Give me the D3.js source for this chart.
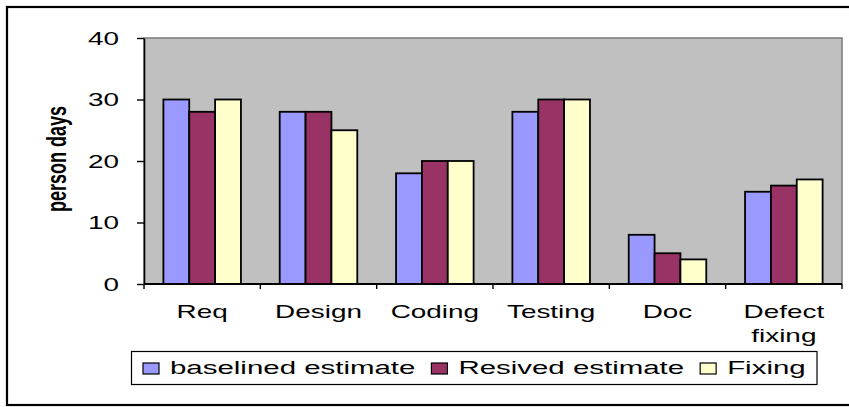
<!DOCTYPE html>
<html>
<head>
<meta charset="utf-8">
<script src="https://cdn.jsdelivr.net/npm/d3@7"></script>
<style>
  html, body { margin: 0; padding: 0; background: #fff; }
  svg { display: block; }
</style>
</head>
<body>
<svg id="chart" width="849" height="407"></svg>
<script>
// Effort per phase, in person days
const categories = ["Req", "Design", "Coding", "Testing", "Doc", "Defect fixing"];
const seriesNames = ["baselined estimate", "Resived estimate", "Fixing"];
const baselined = [30, 28, 18, 28, 8, 15];
const revised   = [28, 28, 20, 30, 5, 16];
const fixing    = [30, 25, 20, 30, 4, 17];
const yTicks = [0, 10, 20, 30, 40];
const colors = ["#9999FF", "#993366", "#FFFFCC"];

const seriesValues = [baselined, revised, fixing];

const W = 849, H = 407;
const sx = 1.55;                       // horizontal text stretch of the sheet
const FONT = "'Liberation Sans', Arial, Helvetica, sans-serif";
const plot = { left: 144, right: 842, top: 38, bottom: 284 };

const svg = d3.select("#chart");

// outer chart frame
svg.append("rect")
  .attr("x", 7).attr("y", 7)
  .attr("width", 870).attr("height", 398)
  .attr("fill", "#fff").attr("stroke", "#000").attr("stroke-width", 2.2);

// scales
const x0 = d3.scaleBand().domain(categories).range([plot.left, plot.right]).padding(0);
const barW = x0.bandwidth() / 4.5;     // gap width 150%
const x1 = d3.scaleBand().domain(seriesNames).range([0.75 * barW, 3.75 * barW]).padding(0);
const y = d3.scaleLinear().domain([0, 40]).range([plot.bottom, plot.top]);

// plot area
svg.append("rect")
  .attr("x", plot.left).attr("y", plot.top)
  .attr("width", plot.right - plot.left).attr("height", plot.bottom - plot.top)
  .attr("fill", "#C0C0C0").attr("stroke", "#808080").attr("stroke-width", 1.6);

// bars
const rows = categories.map((c, i) => ({
  cat: c,
  vals: seriesNames.map((s, j) => ({ series: s, value: seriesValues[j][i], color: colors[j] }))
}));

svg.append("g").selectAll("g")
  .data(rows).join("g")
  .attr("transform", d => `translate(${x0(d.cat)},0)`)
  .selectAll("rect")
  .data(d => d.vals).join("rect")
  .attr("x", d => x1(d.series))
  .attr("y", d => y(d.value))
  .attr("width", x1.bandwidth())
  .attr("height", d => y(0) - y(d.value))
  .attr("fill", d => d.color)
  .attr("stroke", "#000").attr("stroke-width", 1.8);

// y axis
const yAxis = svg.append("g")
  .attr("transform", `translate(${plot.left},0)`)
  .call(d3.axisLeft(y).tickValues(yTicks).tickSize(7).tickSizeOuter(0));
yAxis.select(".domain").attr("stroke", "#000").attr("stroke-width", 1.6);
yAxis.selectAll(".tick line").attr("stroke", "#000").attr("stroke-width", 1.4);
yAxis.selectAll(".tick text")
  .attr("x", -25 / sx)
  .attr("dy", "0.36em")
  .attr("transform", `scale(${sx},1)`)
  .attr("fill", "#000")
  .style("font-family", FONT).style("font-size", "18px");

// x axis: baseline and category boundary ticks
const xg = svg.append("g");
xg.append("line")
  .attr("x1", plot.left).attr("x2", plot.right)
  .attr("y1", plot.bottom).attr("y2", plot.bottom)
  .attr("stroke", "#000").attr("stroke-width", 1.8);
const bounds = categories.map(c => x0(c)).concat([x0(categories[categories.length - 1]) + x0.bandwidth()]);
xg.selectAll("line.bt")
  .data(bounds).join("line")
  .attr("class", "bt")
  .attr("x1", d => d).attr("x2", d => d)
  .attr("y1", plot.bottom).attr("y2", plot.bottom + 5)
  .attr("stroke", "#000").attr("stroke-width", 1.4);

// category labels, wrapped when wider than the band
const labels = xg.selectAll("g.lab")
  .data(categories).join("g")
  .attr("class", "lab")
  .attr("transform", d => `translate(${x0(d) + x0.bandwidth() / 2},318) scale(${sx},1)`);
labels.each(function (d) {
  const g = d3.select(this);
  const t = g.append("text")
    .attr("text-anchor", "middle")
    .attr("fill", "#000")
    .style("font-family", FONT).style("font-size", "18px")
    .text(d);
  if (t.node().getComputedTextLength() * sx > x0.bandwidth()) {
    const words = d.split(" ");
    t.text(null);
    words.forEach((w, i) => {
      t.append("tspan").attr("x", 0).attr("dy", i === 0 ? 0 : 24).text(w);
    });
  }
});

// y axis title
svg.append("text")
  .attr("transform", `translate(66,159) scale(${sx},1) rotate(-90)`)
  .attr("text-anchor", "middle")
  .attr("fill", "#000")
  .style("font-family", FONT).style("font-size", "18px").style("font-weight", "bold")
  .text("person days");

// legend
const lg = svg.append("g");
lg.append("rect")
  .attr("x", 131.5).attr("y", 351.5)
  .attr("width", 685.5).attr("height", 33)
  .attr("fill", "#fff").attr("stroke", "#000").attr("stroke-width", 1.2);

let cx = 143;
seriesNames.forEach((s, i) => {
  lg.append("rect")
    .attr("x", cx).attr("y", 363)
    .attr("width", 16).attr("height", 11)
    .attr("fill", colors[i]).attr("stroke", "#000").attr("stroke-width", 1.2);
  const tx = cx + 27;
  const t = lg.append("text")
    .attr("transform", `translate(${tx},374) scale(${sx},1)`)
    .attr("fill", "#000")
    .style("font-family", FONT).style("font-size", "19px")
    .text(s);
  cx = tx + t.node().getComputedTextLength() * sx + 16;
});
</script>
</body>
</html>
